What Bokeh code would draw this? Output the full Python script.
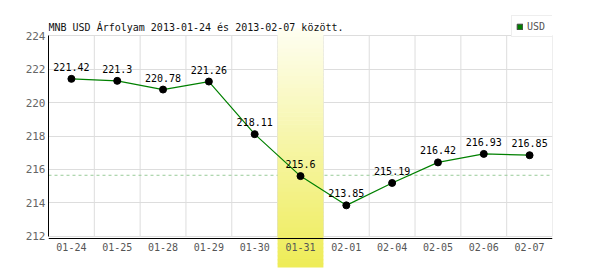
import numpy as np
from bokeh.plotting import figure
from bokeh.models import Range1d, FixedTicker, Legend, LegendItem, Label
from bokeh.core.properties import value
from bokeh.embed import file_html
from bokeh.resources import INLINE

# ---- data ----
dates = ["01-24", "01-25", "01-28", "01-29", "01-30", "01-31",
         "02-01", "02-04", "02-05", "02-06", "02-07"]
rates = [221.42, 221.3, 220.78, 221.26, 218.11, 215.6,
         213.85, 215.19, 216.42, 216.93, 216.85]
ref_level = 215.65
highlight_date = "01-31"
series_name = "USD"
y_ticks = [212, 214, 216, 218, 220, 222, 224]
title_text = "MNB USD Árfolyam 2013-01-24 és 2013-02-07 között."

FONT = "DejaVu Sans Mono"
n = len(dates)
xs = [i + 0.5 for i in range(n)]

p = figure(width=600, height=270, output_backend="svg", toolbar_location=None,
           title=None, x_range=Range1d(0, n), y_range=Range1d(210.13, 226.11),
           min_border=0, min_border_left=48, min_border_right=48,
           min_border_top=0, min_border_bottom=3)
p.outline_line_color = None
p.background_fill_color = "white"
p.border_fill_color = "white"

# x axis at fixed location
xa = p.xaxis[0]
xa.fixed_location = 211.86
xa.ticker = FixedTicker(ticks=xs)
xa.major_label_overrides = {x: d for x, d in zip(xs, dates)}
xa.major_tick_line_color = None
xa.minor_tick_line_color = None
xa.major_tick_out = 0
xa.major_tick_in = 0
xa.axis_line_color = "black"
xa.major_label_text_font = FONT
xa.major_label_text_font_size = "10px"
xa.major_label_text_color = "#555555"
xa.major_label_standoff = 4

ya = p.yaxis[0]
ya.bounds = (y_ticks[0], y_ticks[-1])
ya.ticker = FixedTicker(ticks=y_ticks)
ya.major_tick_line_color = None
ya.minor_tick_line_color = None
ya.major_tick_out = 0
ya.major_tick_in = 0
ya.axis_line_color = "black"
ya.major_label_text_font = FONT
ya.major_label_text_font_size = "11px"
ya.major_label_text_color = "#666666"
ya.major_label_standoff = 3

p.xgrid.visible = False
p.ygrid[0].ticker = FixedTicker(ticks=y_ticks)
p.ygrid.grid_line_color = "#dddddd"
p.ygrid.grid_line_width = 1

# vertical grid lines at category boundaries
bounds_x = list(range(1, n + 1))
p.segment(x0=bounds_x, y0=y_ticks[0], x1=bounds_x, y1=y_ticks[-1],
          line_color="#dddddd", line_width=1)

# reference dashed line
p.line(x=[0, n], y=[ref_level, ref_level], line_color="#99cc99",
       line_width=1, line_dash="3 3")

# highlighted column with vertical gradient
hi = dates.index(highlight_date)
N = 60
edges = np.linspace(224.43, 210.13, N + 1)
c0 = np.array([254, 254, 240])
c1 = np.array([238, 236, 88])
cols = []
for k in range(N):
    t = k / (N - 1)
    c = (c0 + (c1 - c0) * t).round().astype(int)
    cols.append("#%02x%02x%02x" % tuple(c))
p.quad(left=hi, right=hi + 1, top=list(edges[:-1]), bottom=list(edges[1:] - 0.04),
       fill_color=cols, line_color=None)

# series
p.line(xs, rates, line_color="#008000", line_width=1.2)
p.scatter(xs, rates, size=7, fill_color="black", line_color="black")
p.text(x=xs, y=rates, text=[str(r) for r in rates], text_font=value(FONT),
       text_font_size="10px", text_align="center", text_baseline="bottom",
       y_offset=-8, text_color="black")

# legend (swatch renderer hidden from the plot, shown only in the legend)
swatch = p.quad(left=xs[:1], right=xs[:1], top=rates[:1], bottom=rates[:1],
                fill_color="#008000", line_color="#444444", visible=False)
legend = Legend(items=[LegendItem(label=series_name, renderers=[swatch])],
                location=(463, 230), glyph_width=7, glyph_height=7,
                label_width=22, label_height=12, padding=4, spacing=0,
                margin=0, label_standoff=4, border_line_color="#dddddd",
                background_fill_color="white", background_fill_alpha=1,
                inactive_fill_alpha=0,
                label_text_font=FONT, label_text_font_size="10px",
                label_text_color="#555555")
p.add_layout(legend)

# title
p.add_layout(Label(x=0, y=240.5, x_units="screen", y_units="screen",
                   text=title_text, text_font=FONT, text_font_size="10px",
                   text_color="#111111", text_baseline="alphabetic"))

open("out.html", "w").write(file_html(p, INLINE))
